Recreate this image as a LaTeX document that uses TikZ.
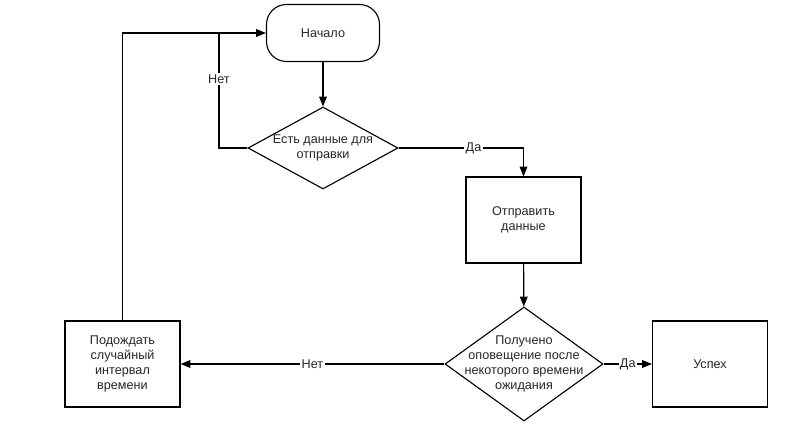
\documentclass[tikz,border=0pt]{standalone}
\usepackage{fontspec}
\setmainfont{Liberation Sans}
\usetikzlibrary{shapes.geometric,arrows.meta}
\begin{document}
\begin{tikzpicture}[
    x=0.025cm, y=-0.025cm,
    every node/.style={font=\fontsize{9}{10.5}\selectfont, align=center, text=black!85},
    term/.style={rectangle, rounded corners=0.5cm, draw, line width=0.8pt, minimum width=2.825cm, minimum height=1.425cm, inner sep=0pt},
    box/.style={rectangle, draw, line width=0.8pt, minimum width=2.875cm, minimum height=2.15cm, inner sep=0pt},
    cond/.style={diamond, draw, line width=0.8pt, inner sep=0pt},
    lab/.style={fill=white, inner sep=1pt},
    arr/.style={line width=0.8pt, -{Triangle[length=7pt,width=5.5pt]}},
    link/.style={line width=0.8pt}
]
\useasboundingbox (0,0) rectangle (800,441);

% ----- блоки -----
\node[term] (start) at (323,33) {Начало};
\node[cond, minimum width=3.75cm, minimum height=2.05cm,
      label={center:Есть данные для\\отправки}] (check) at (323,148) {};
\node[box] (send) at (523.5,220) {Отправить\\данные};
\node[cond, minimum width=3.95cm, minimum height=2.85cm,
      label={center:Получено\\оповещение после\\некоторого времени\\ожидания}] (ack) at (524,364) {};
\node[box] (success) at (710,364) {Успех};
\node[box] (wait) at (122.5,364) {Подождать\\случайный\\интервал\\времени};

\coordinate (join) at (219,33);

% ----- связи -----
\draw[arr] (start) -- (check);
\draw[link] (check.west) -| node[lab, pos=0.8] {Нет} (join);
\draw[link] (wait.north) |- (join);
\draw[arr] (join) -- (start.west);
\draw[arr] (check.east) -| node[lab, pos=0.3] {Да} (send.north);
\draw[arr] (send) -- (ack);
\draw[arr] (ack) -- node[lab] {Да} (success);
\draw[arr] (ack) -- node[lab] {Нет} (wait);

\end{tikzpicture}
\end{document}
